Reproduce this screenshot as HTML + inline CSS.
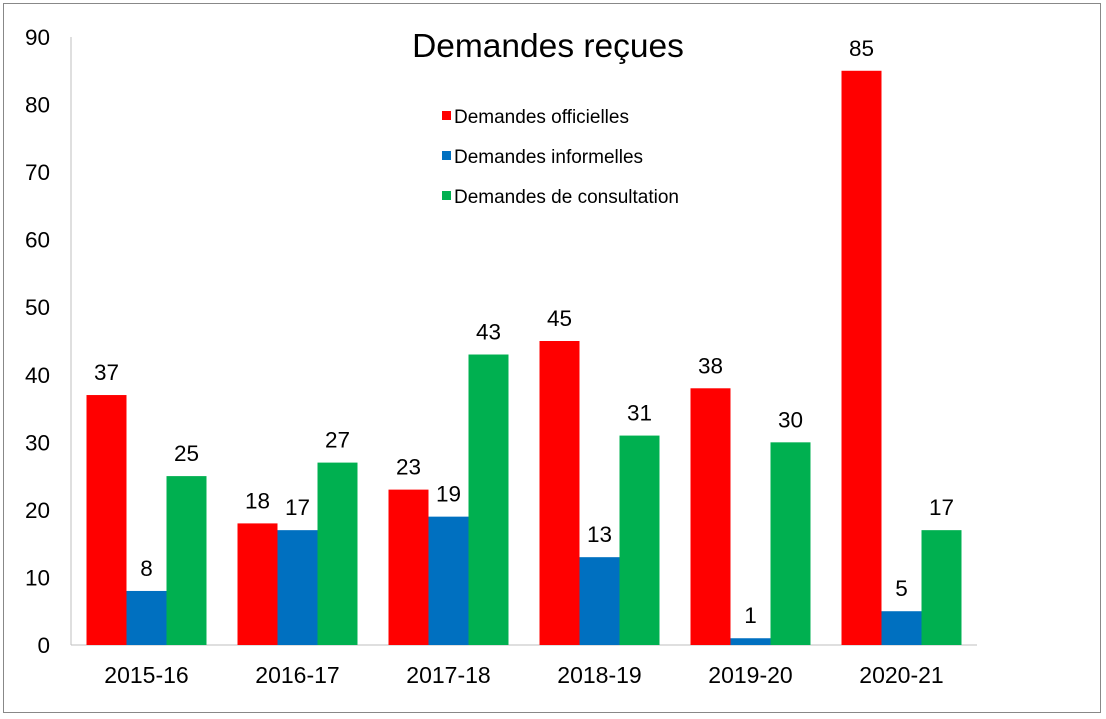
<!DOCTYPE html>
<html><head><meta charset="utf-8"><style>
html,body{margin:0;padding:0;background:#fff;}
svg{display:block;font-family:"Liberation Sans",Arial,sans-serif;}
</style></head><body>
<svg id="chart" width="1106" height="719">
<rect x="3.5" y="3.5" width="1097" height="709" fill="#fff" stroke="#888" stroke-width="1"/>
<text x="548" y="57" font-size="33.5" text-anchor="middle">Demandes reçues</text>
<g id="legend"></g>
<g id="axes"></g>
<g id="bars"></g>
</svg>
<script>
const categories=["2015-16","2016-17","2017-18","2018-19","2019-20","2020-21"];
const officielles=[37,18,23,45,38,85];
const informelles=[8,17,19,13,1,5];
const consultation=[25,27,43,31,30,17];
const seriesNames=["Demandes officielles","Demandes informelles","Demandes de consultation"];
const yTicks=[0,10,20,30,40,50,60,70,80,90];

const NS="http://www.w3.org/2000/svg";
const colors=["#ff0000","#0070c0","#00b050"];
const x0=71,x1=977,yBase=645,yTop=37,yMax=90;
const y=v=>yBase-(v/yMax)*(yBase-yTop);
const gw=(x1-x0)/categories.length;
const bw=40;
function mk(tag,attrs,parent,txt){const e=document.createElementNS(NS,tag);for(const k in attrs)e.setAttribute(k,attrs[k]);if(txt!==undefined)e.textContent=txt;parent.appendChild(e);return e;}
const axes=document.getElementById('axes');
const bars=document.getElementById('bars');
const legend=document.getElementById('legend');
let ya=mk('line',{x1:x0,y1:yTop,x2:x0,y2:yBase,stroke:'#bfbfbf'},axes);


let xa=mk('line',{x1:x0,y1:yBase,x2:x1,y2:yBase,stroke:'#bfbfbf'},axes);


yTicks.forEach(t=>{
  const e=mk('text',{x:50,y:y(t)+8,'font-size':22.5,'text-anchor':'end'},axes,t);
  
  
});
const data=[officielles,informelles,consultation];
categories.forEach((c,i)=>{
  const gx=x0+gw*i;
  const e=mk('text',{x:gx+gw/2,y:683,'font-size':23,'text-anchor':'middle'},axes,c);
  
  
  data.forEach((s,j)=>{
    const bx=gx+(gw-3*bw)/2+j*bw;
    const r=mk('rect',{x:bx,y:y(s[i]),width:bw,height:yBase-y(s[i]),fill:colors[j]},bars);
    
    
    const l=mk('text',{x:bx+bw/2,y:y(s[i])-15,'font-size':22.5,'text-anchor':'middle'},bars,s[i]);
    
    
  });
});
seriesNames.forEach((n,j)=>{
  const ly=116+40*j;
  const r=mk('rect',{x:442,y:ly-5,width:9,height:9,fill:colors[j]},legend);
  
  
  const t=mk('text',{x:454,y:ly+7,'font-size':19},legend,n);
  
  
});
</script>
</body></html>
